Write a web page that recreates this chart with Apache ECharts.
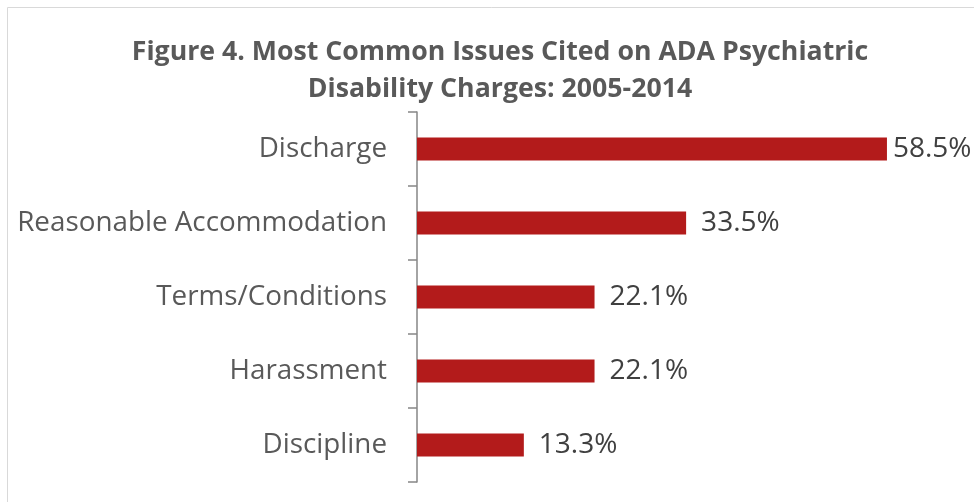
<!DOCTYPE html>
<html>
<head>
<meta charset="utf-8">
<script src="https://cdn.jsdelivr.net/npm/echarts@6/dist/echarts.min.js"></script>
<style>
  html, body { margin: 0; padding: 0; background: #fff; }
  #chart { width: 974px; height: 502px; }
</style>
</head>
<body>
<div id="chart"></div>
<script>
// 数据
const categories = ['Discharge', 'Reasonable Accommodation', 'Terms/Conditions', 'Harassment', 'Discipline']
const values = [58.5, 33.5, 22.1, 22.1, 13.3]
const titleText = 'Figure 4. Most Common Issues Cited on ADA Psychiatric\nDisability Charges: 2005-2014'

const chart = echarts.init(document.getElementById('chart'))
const option = {
    animation: false,
    // 外框
    graphic: [{
        type: 'rect',
        shape: { x: 7.5, y: 7.5, width: 1000, height: 1000 },
        style: { fill: 'none', stroke: '#d9d9d9', lineWidth: 1 }
    }],
    title: {
        text: titleText,
        left: 495,
        textAlign: 'center',
        top: 29,
        textStyle: {
            fontFamily: 'Open Sans',
            fontSize: 26.7,
            fontWeight: 'bold',
            color: '#595959',
            lineHeight: 37
        }
    },
    grid: { left: 417, right: 75, top: 112, bottom: 20 },
    xAxis: {
        type: 'value',
        min: 0,
        max: 60,
        show: false
    },
    yAxis: {
        type: 'category',
        inverse: true,
        data: categories,
        axisLine: { lineStyle: { color: '#868686', width: 1.5 } },
        axisTick: { show: true, length: 9, lineStyle: { color: '#868686', width: 1.5 } },
        axisLabel: {
            margin: 30,
            fontFamily: 'Open Sans',
            fontSize: 27.8,
            color: '#595959'
        }
    },
    series: [{
        type: 'bar',
        data: values.map((v, i) => i === 0 ? { value: v, label: { distance: 6 } } : v),
        barWidth: 23,
        itemStyle: { color: '#b31b1b' },
        label: {
            show: true,
            position: 'right',
            distance: 15,
            fontFamily: 'Open Sans',
            fontSize: 28,
            color: '#404040',
            formatter: p => p.value.toFixed(1) + '%'
        }
    }]
}
chart.setOption(option)
</script>
</body>
</html>
